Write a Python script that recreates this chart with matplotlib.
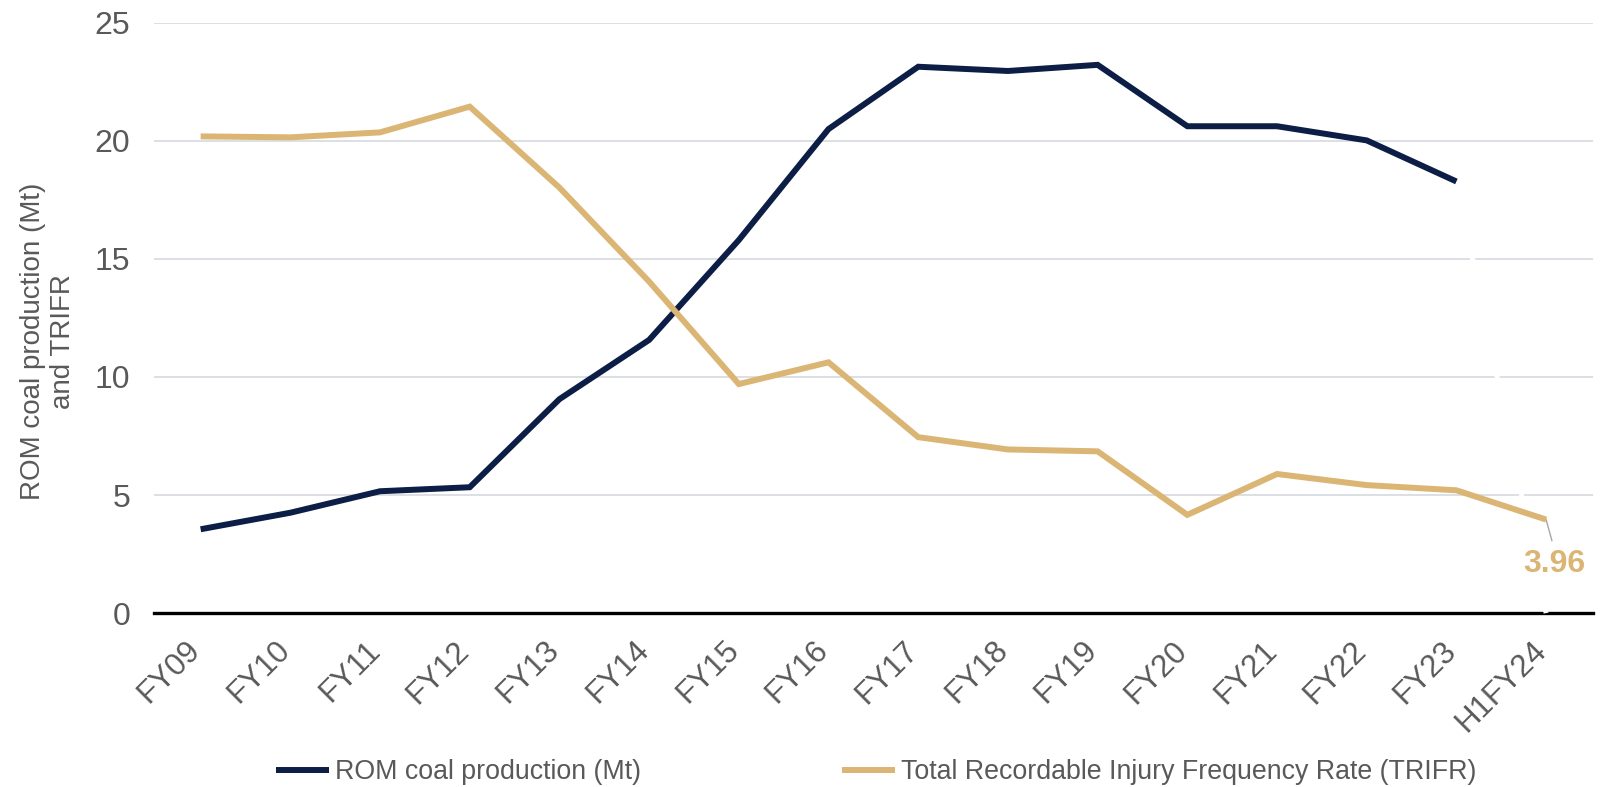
import matplotlib.pyplot as plt
import matplotlib.transforms as mtransforms
import numpy as np

plt.rcParams['font.family'] = ['Liberation Sans', 'DejaVu Sans']

# --- data ---
periods = ['FY09', 'FY10', 'FY11', 'FY12', 'FY13', 'FY14', 'FY15', 'FY16',
           'FY17', 'FY18', 'FY19', 'FY20', 'FY21', 'FY22', 'FY23', 'H1FY24']
rom_mt = [3.55, 4.25, 5.16, 5.33, 9.06, 11.57, 15.8, 20.5,
          23.14, 22.96, 23.22, 20.62, 20.62, 20.02, 18.28]
rom_h1_blank = 0.0   # H1FY24 has no ROM value; the source draws it as zero in white
trifr = [20.19, 20.15, 20.36, 21.45, 18.02, 14.04, 9.7, 10.62,
         7.45, 6.93, 6.85, 4.16, 5.89, 5.42, 5.2, 3.96]

NAVY = '#0c1e45'
TAN = '#dbb574'
GREY_TXT = '#595959'

fig = plt.figure(figsize=(16.04, 7.87), dpi=100)
ax = fig.add_axes([0.096, 0.221, 0.897, 0.750])

x = np.arange(len(periods))

# gridlines and base axis
for yv in [5, 10, 15, 20, 25]:
    ax.axhline(yv, color='#d9dde3', linewidth=1.3, zorder=0)
ax.axhline(0, color='black', linewidth=2.4, zorder=1, clip_on=False)

# ROM coal production (the blank H1FY24 point drops to zero in white)
ax.plot(x[-2:], [rom_mt[-1], rom_h1_blank], color='white', linewidth=3.6,
        solid_capstyle='butt', zorder=2, clip_on=False)
rom_line, = ax.plot(x[:len(rom_mt)], rom_mt, color=NAVY, linewidth=4.3,
                    solid_capstyle='butt', solid_joinstyle='miter', zorder=3)

# TRIFR
trifr_line, = ax.plot(x, trifr, color=TAN, linewidth=4.3,
                      solid_capstyle='butt', solid_joinstyle='miter', zorder=4)

# label on last TRIFR value with a short leader
ax.annotate('', xy=(x[-1], trifr[-1]), xytext=(x[-1] + 0.065, trifr[-1] - 0.9),
            arrowprops=dict(arrowstyle='-', color='#a6a6a6', lw=1.0,
                            shrinkA=0, shrinkB=0), zorder=3)
ax.text(x[-1] + 0.09, trifr[-1] - 1.88, f'{trifr[-1]:.2f}', ha='center', va='center',
        fontsize=23, fontweight='bold', color=TAN)

ax.set_xlim(-0.52, 15.52)
ax.set_ylim(0, 25)
ax.set_yticks([0, 5, 10, 15, 20, 25])
ax.set_xticks(x)
ax.set_xticklabels(periods, rotation=45, ha='right', rotation_mode='default')
ax.tick_params(axis='y', length=0, pad=17, labelsize=23, labelcolor=GREY_TXT)
ax.tick_params(axis='x', length=0, pad=16, labelsize=22.5, labelcolor=GREY_TXT)
shift = mtransforms.ScaledTranslation(6 / 100, 0, fig.dpi_scale_trans)
for lbl in ax.get_xticklabels():
    lbl.set_transform(lbl.get_transform() + shift)
for s in ax.spines.values():
    s.set_visible(False)

ax.set_ylabel('ROM coal production (Mt)\nand TRIFR', fontsize=20,
              color=GREY_TXT, linespacing=1.22)
ax.yaxis.set_label_coords(-0.054, 0.46)

fig.legend([rom_line, trifr_line],
           ['ROM coal production (Mt)', 'Total Recordable Injury Frequency Rate (TRIFR)'],
           loc='center', bbox_to_anchor=(0.546, 0.019), ncol=2, frameon=False,
           fontsize=19.3, handlelength=2.0, handletextpad=0.2, columnspacing=7.5,
           labelcolor=GREY_TXT)

fig.savefig('out.png', dpi=100)
